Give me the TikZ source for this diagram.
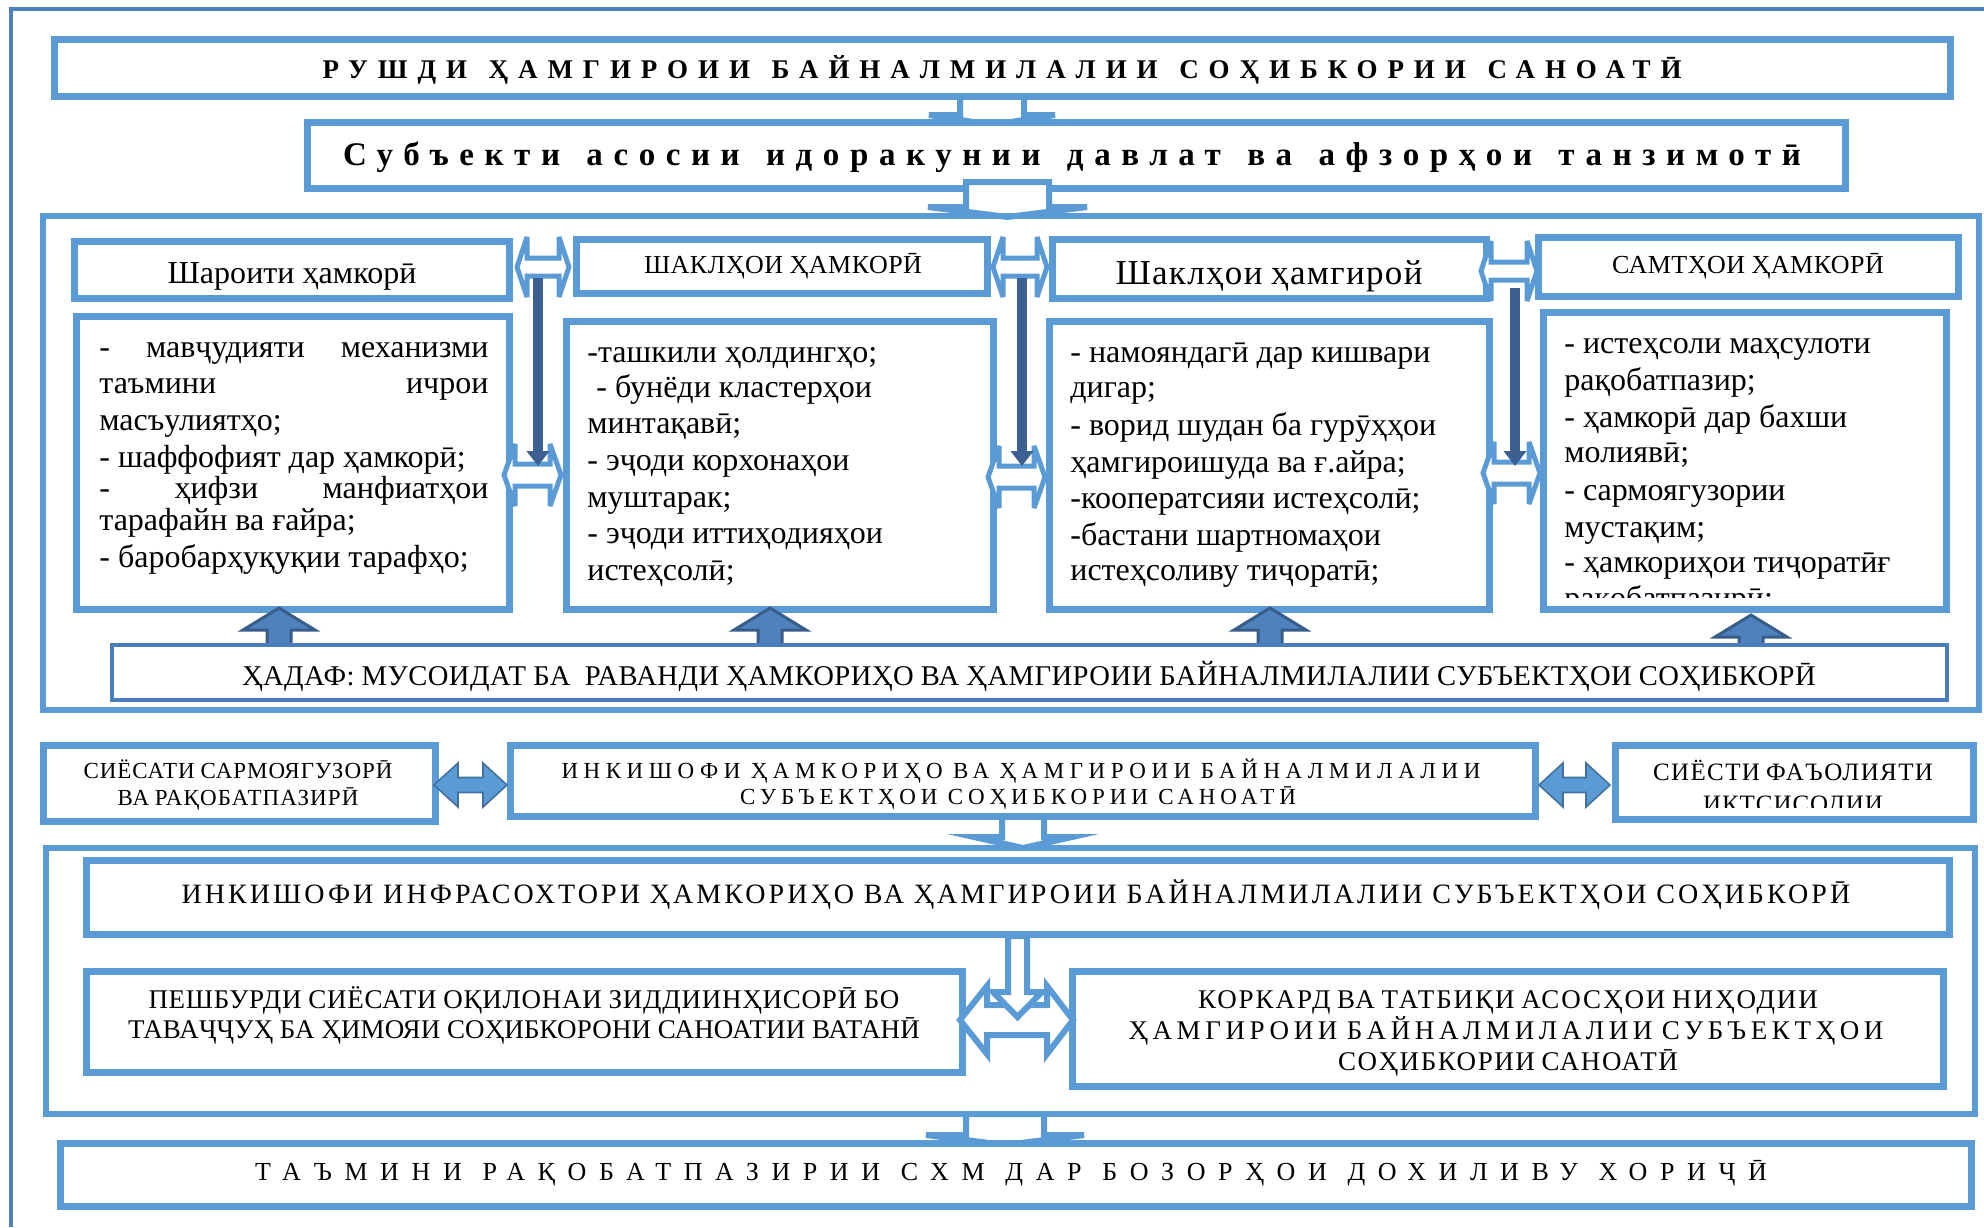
\documentclass[tikz,border=0pt]{standalone}
\usepackage{fontspec}
\setmainfont{Liberation Serif}
\usetikzlibrary{arrows.meta,fit}
\definecolor{bl}{HTML}{5B9BD5}
\definecolor{ob}{HTML}{4F81BD}
\definecolor{gb}{HTML}{4A7EBB}
\definecolor{dk}{HTML}{3B6091}
\definecolor{upf}{HTML}{4F81BD}
\definecolor{upd}{HTML}{385D8A}
\definecolor{rd}{HTML}{41719C}
\newcommand\fs[1]{\fontsize{#1}{#1}\selectfont}
\newsavebox\tbox
\newcommand\fitls[4][0.25]{%
 \begingroup #3\spaceskip=#1em\relax
 \sbox\tbox{#4}\edef\wa{\fpeval{\the\wd\tbox}}%
 \sbox\tbox{\addfontfeature{LetterSpace=10}#4}\edef\wb{\fpeval{\the\wd\tbox}}%
 \edef\lsv{\fpeval{round(10*(#2*0.5-\wa)/(\wb-\wa),3)}}%
 \edef\tmp{\noexpand\addfontfeature{LetterSpace=\lsv}}\tmp #4%
 \endgroup}
\newcommand\js[1]{\makebox[194.5pt][s]{#1}}
\tikzset{
 box/.style={draw=bl, line width=3.5pt, fill=white, inner sep=0pt},
 frm/.style={draw=bl, line width=3pt, inner sep=0pt},
 gbox/.style={draw=gb, line width=2pt, fill=white, inner sep=0pt},
 hol/.style={draw=bl, line width=3pt, fill=white},
 dbl/.style={draw=bl, line width=2.5pt, fill=white},
 uparr/.style={fill=upf, draw=upd, line width=1.5pt},
 rarr/.style={fill=bl, draw=rd, line width=0.8pt},
 dark/.style={draw=dk, line width=5pt, -{Triangle[width=11pt,length=7.5pt]}},
 txt/.style={inner sep=0pt, anchor=base},
 ltxt/.style={inner sep=0pt, anchor=base west, font=\fs{16}},
}
\begin{document}
\begin{tikzpicture}[x=0.5pt,y=-0.5pt]
\useasboundingbox (0,0) rectangle (1984,1227);
% outer frame
\draw[draw=ob, line width=2pt] (11,1227) -- (11,9) -- (1984,9);
% arrow title -> subject
\draw[hol] (960,85) -- (960,115) -- (929,115) -- (992,125) -- (1055,115) -- (1024,115) -- (1024,85) -- cycle;
\node[box, fit={(54.5,39.5) (1950.5,96.5)}] (title) {};
\node[box, fit={(307.5,122.5) (1845.5,188.5)}] (subj) {};
% arrow subject -> frame
\draw[hol] (966,182) -- (966,207) -- (928,207) -- (1007.5,217) -- (1087,207) -- (1049,207) -- (1049,182) -- cycle;
\node[frm, fit={(43,216) (1979,710)}] (frameA) {};
% headers
\node[box, fit={(74.5,241.5) (509.5,298.5)}] (h1) {};
\node[box, fit={(576.5,239.5) (987.5,293.5)}] (h2) {};
\node[box, fit={(1052.5,239.5) (1486.5,298.5)}] (h3) {};
\node[box, fit={(1538.5,237.5) (1958.5,296.5)}] (h4) {};
% content boxes
\node[box, fit={(76.5,316.5) (509.5,609.5)}] (c1) {};
\node[box, fit={(566.5,321.5) (993.5,609.5)}] (c2) {};
\node[box, fit={(1049.5,321.5) (1489.5,609.5)}] (c3) {};
\node[box, fit={(1543.5,312.5) (1946.5,609.5)}] (c4) {};
% header double arrows
\foreach \a/\b/\c in {517/569/267, 993/1047/267, 1481/1537/271}{
 \draw[dbl, miter limit=4] (\a,\c) -- ({\a+10},{\c-30}) -- ({\a+10},{\c-9}) -- ({\b-10},{\c-9}) -- ({\b-10},{\c-30}) -- (\b,\c) -- ({\b-10},{\c+30}) -- ({\b-10},{\c+9}) -- ({\a+10},{\c+9}) -- ({\a+10},{\c+30}) -- cycle;
}
% lower double arrows
\foreach \a/\b/\c in {504/561/475, 988/1045/477, 1483/1540/473}{
 \draw[dbl, miter limit=4] (\a,\c) -- ({\a+11},{\c-31}) -- ({\a+11},{\c-11}) -- ({\b-11},{\c-11}) -- ({\b-11},{\c-31}) -- (\b,\c) -- ({\b-11},{\c+31}) -- ({\b-11},{\c+11}) -- ({\a+11},{\c+11}) -- ({\a+11},{\c+31}) -- cycle;
}
% dark vertical arrows
\coordinate (d1s) at (538,278); \coordinate (d1e) at (538,466);
\coordinate (d2s) at (1022,278); \coordinate (d2e) at (1022,466);
\coordinate (d3s) at (1515,288); \coordinate (d3e) at (1515,466);
\draw[dark] (d1s) -- (d1e);
\draw[dark] (d2s) -- (d2e);
\draw[dark] (d3s) -- (d3e);
% up arrows
\foreach \x/\t in {279/608, 770/608, 1270/608, 1751/615}{
 \draw[uparr] ({\x-12},648) -- ({\x-12},{\t+22}) -- ({\x-36},{\t+22}) -- (\x,\t) -- ({\x+36},{\t+22}) -- ({\x+12},{\t+22}) -- ({\x+12},648) -- cycle;
}
\node[gbox, fit={(112,645) (1947,700)}] (goal) {};
% arrow mid row -> frame B
\draw[hol] (1002,810) -- (1002,837) -- (974,837) -- (1023,848) -- (1072,837) -- (1044,837) -- (1044,810) -- cycle;
\node[box, fit={(43.5,745.5) (435.5,821.5)}] (p1) {};
\node[box, fit={(510.5,745.5) (1535.5,816.5)}] (p2) {};
\node[box, fit={(1615.5,745.5) (1973.5,819.5)}] (p3) {};
\foreach \a/\b in {434/507, 1539/1610}{
 \draw[rarr] (\a,785) -- ({\a+24},763) -- ({\a+24},777.5) -- ({\b-24},777.5) -- ({\b-24},763) -- (\b,785) -- ({\b-24},807) -- ({\b-24},792.5) -- ({\a+24},792.5) -- ({\a+24},807) -- cycle;
}
% arrow frame B -> final
\draw[hol] (966,1114) -- (966,1135) -- (926,1135) -- (1005,1145) -- (1084,1135) -- (1044,1135) -- (1044,1114) -- cycle;
\node[frm, fit={(46,848) (1975,1114)}] (frameB) {};
\node[box, fit={(86.5,860.5) (1949.5,934.5)}] (infra) {};
\node[box, fit={(86.5,971.5) (962.5,1072.5)}] (q1) {};
\node[box, fit={(1072.5,971.5) (1943.5,1086.5)}] (q2) {};
\draw[dbl, line width=3pt, miter limit=4] (960,1020) -- (987,986) -- (987,1005) -- (1047,1005) -- (1047,986) -- (1073,1020) -- (1047,1054) -- (1047,1035) -- (987,1035) -- (987,1054) -- cycle;
\draw[hol] (1008,936) -- (1008,992) -- (993,992) -- (1017.5,1017) -- (1042,992) -- (1027,992) -- (1027,936) -- cycle;
\node[box, fit={(60.5,1143.5) (1971.5,1206.5)}] (final) {};
% texts
\node[txt] (tT) at (1002,78) {\fitls[0.8]{1359}{\fs{13.5}\bfseries}{РУШДИ ҲАМГИРОИИ БАЙНАЛМИЛАЛИИ СОҲИБКОРИИ САНОАТӢ}};
\node[txt] (tS) at (1072,165) {\fitls[0.8]{1458}{\fs{16.5}\bfseries}{Субъекти асосии идоракунии давлат ва афзорҳои танзимотӣ}};
\node[txt] (tH1) at (292,283) {\fitls{249}{\fs{16}}{Шароити ҳамкорӣ}};
\node[txt] (tH2) at (783,273) {\fitls{278}{\fs{13}}{ШАКЛҲОИ ҲАМКОРӢ}};
\node[txt] (tH3) at (1269,284) {\fitls{307}{\fs{17.5}}{Шаклҳои ҳамгирой}};
\node[txt] (tH4) at (1748,273) {\fitls{272}{\fs{13}}{САМТҲОИ ҲАМКОРӢ}};
% content 1
\node[ltxt] (c1a) at (99,357) {\js{- мавҷудияти механизми}};
\node[ltxt] (c1b) at (99,393) {\js{таъмини ичрои}};
\node[ltxt] (c1c) at (99,430) {масъулиятҳо;};
\node[ltxt] (c1d) at (99,467) {- шаффофият дар ҳамкорӣ;};
\node[ltxt] (c1e) at (99,498) {\js{- ҳифзи манфиатҳои}};
\node[ltxt] (c1f) at (99,530) {тарафайн ва ғайра;};
\node[ltxt] (c1g) at (99,567) {- баробарҳуқуқии тарафҳо;};
% content 2
\node[ltxt] (c2a) at (587,362) {-ташкили ҳолдингҳо;};
\node[ltxt] (c2b) at (596,397) {- бунёди кластерҳои};
\node[ltxt] (c2c) at (587,433) {минтақавӣ;};
\node[ltxt] (c2d) at (587,470) {- эҷоди корхонаҳои};
\node[ltxt] (c2e) at (587,507) {муштарак;};
\node[ltxt] (c2f) at (587,543) {- эҷоди иттиҳодияҳои};
\node[ltxt] (c2g) at (587,580) {истеҳсолӣ;};
% content 3
\node[ltxt] (c3a) at (1070,362) {- намояндагӣ дар кишвари};
\node[ltxt] (c3b) at (1070,397) {дигар;};
\node[ltxt] (c3c) at (1070,435) {- ворид шудан ба гурӯҳҳои};
\node[ltxt] (c3d) at (1070,472) {ҳамгироишуда ва ғ.айра;};
\node[ltxt] (c3e) at (1070,508) {-кооператсияи истеҳсолӣ;};
\node[ltxt] (c3f) at (1070,545) {-бастани шартномаҳои};
\node[ltxt] (c3g) at (1070,580) {истеҳсоливу тиҷоратӣ;};
% content 4
\begin{scope}
\clip (1548,316) rectangle (1942,597);
\node[ltxt] (c4a) at (1564,353) {- истеҳсоли маҳсулоти};
\node[ltxt] (c4b) at (1564,390) {рақобатпазир;};
\node[ltxt] (c4c) at (1564,427) {- ҳамкорӣ дар бахши};
\node[ltxt] (c4d) at (1564,462) {молиявӣ;};
\node[ltxt] (c4e) at (1564,500) {- сармоягузории};
\node[ltxt] (c4f) at (1564,537) {мустақим;};
\node[ltxt] (c4g) at (1564,572) {- ҳамкориҳои тиҷоратӣғ};
\node[ltxt] (c4h) at (1564,608) {рақобатпазирӣ;};
\end{scope}
\node[txt] (tG) at (1029,685) {\fitls{1574}{\fs{14.3}}{ҲАДАФ: МУСОИДАТ БА\ \ РАВАНДИ ҲАМКОРИҲО ВА ҲАМГИРОИИ БАЙНАЛМИЛАЛИИ СУБЪЕКТҲОИ СОҲИБКОРӢ}};
\node[txt] (tP1a) at (238,778) {\fitls{309}{\fs{11.5}}{СИЁСАТИ САРМОЯГУЗОРӢ}};
\node[txt] (tP1b) at (238,805) {\fitls{241}{\fs{11.5}}{ВА РАҚОБАТПАЗИРӢ}};
\node[txt] (tP2a) at (1021,778) {\fitls[0.45]{919}{\fs{11.5}}{ИНКИШОФИ ҲАМКОРИҲО ВА ҲАМГИРОИИ БАЙНАЛМИЛАЛИИ}};
\node[txt] (tP2b) at (1018,804) {\fitls[0.45]{556}{\fs{11.5}}{СУБЪЕКТҲОИ СОҲИБКОРИИ САНОАТӢ}};
\begin{scope}
\clip (1620,750) rectangle (1970,807);
\node[txt] (tP3a) at (1793,780) {\fitls{280}{\fs{12.5}}{СИЁСТИ ФАЪОЛИЯТИ}};
\node[txt] (tP3b) at (1793,812) {\fitls{180}{\fs{12.5}}{ИКТСИСОДИИ}};
\end{scope}
\node[txt] (tI) at (1016,903) {\fitls[0.35]{1669}{\fs{14}}{ИНКИШОФИ ИНФРАСОХТОРИ ҲАМКОРИҲО ВА ҲАМГИРОИИ БАЙНАЛМИЛАЛИИ СУБЪЕКТҲОИ СОҲИБКОРӢ}};
\node[txt] (tQ1a) at (524,1008) {\fitls{751}{\fs{13.5}}{ПЕШБУРДИ СИЁСАТИ ОҚИЛОНАИ ЗИДДИИНҲИСОРӢ БО}};
\node[txt] (tQ1b) at (524,1038) {\fitls{792}{\fs{13.5}}{ТАВАҶҶУҲ БА ҲИМОЯИ СОҲИБКОРОНИ САНОАТИИ ВАТАНӢ}};
\node[txt] (tQ2a) at (1508,1008) {\fitls{620}{\fs{13.5}}{КОРКАРД ВА ТАТБИҚИ АСОСҲОИ НИҲОДИИ}};
\node[txt] (tQ2b) at (1506,1039) {\fitls[0.35]{755}{\fs{13.5}}{ҲАМГИРОИИ БАЙНАЛМИЛАЛИИ СУБЪЕКТҲОИ}};
\node[txt] (tQ2c) at (1508,1070) {\fitls{340}{\fs{13.5}}{СОҲИБКОРИИ САНОАТӢ}};
\node[txt] (tF) at (1011,1180) {\fitls[0.8]{1512}{\fs{13}}{ТАЪМИНИ РАҚОБАТПАЗИРИИ СХМ ДАР БОЗОРҲОИ ДОХИЛИВУ ХОРИҶӢ}};
\end{tikzpicture}
\end{document}
